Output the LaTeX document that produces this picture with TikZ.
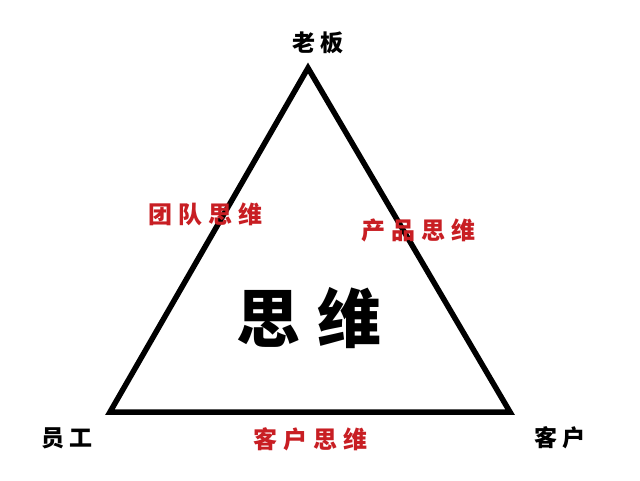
\documentclass[tikz,border=0pt]{standalone}
\usepackage{fontspec}
\usepackage{xcolor}
\usepackage{tikz}
\usetikzlibrary{positioning, calc}
\newfontfamily\cjk{Noto Sans CJK SC}
\definecolor{thinkred}{RGB}{200,30,35}
\newcommand{\gap}{\hspace{6pt}}

\begin{document}
\begin{tikzpicture}[
    x=1pt, y=1pt,
    role/.style={font=\cjk\bfseries\fontsize{23}{25}\selectfont, text=black, inner sep=0pt},
    mindset/.style={font=\cjk\bfseries\fontsize{24}{26}\selectfont, text=thinkred, inner sep=0pt},
    core/.style={font=\cjk\bfseries\fontsize{64}{68}\selectfont, text=black, inner sep=0pt}
]
    % Canvas
    \useasboundingbox (0,0) rectangle (640,480);
    \fill[white] (0,0) rectangle (640,480);

    % Triangle corners
    \coordinate (boss) at (308,412);
    \coordinate (staff) at (110,68);
    \coordinate (client) at (510,68);

    % Triangle
    \draw[line width=5.5pt, line join=miter] (boss) -- (staff) -- (client) -- cycle;

    % Roles at the corners
    \node [role] (bosslabel) at (318,437) {老\gap 板};
    \node [role] (stafflabel) at (67,42) {员\gap 工};
    \node [role] (clientlabel) at (560,42) {客\gap 户};

    % Mindsets on the sides
    \node [mindset] (team) at (205,266) {团\gap 队\gap 思\gap 维};
    \node [mindset] (product) at (418,250) {产\gap 品\gap 思\gap 维};
    \node [mindset] (customer) at (310,41) {客\gap 户\gap 思\gap 维};

    % Centre
    \node [core] (think) at (309,162) {思\hspace{18pt}维};
\end{tikzpicture}
\end{document}
